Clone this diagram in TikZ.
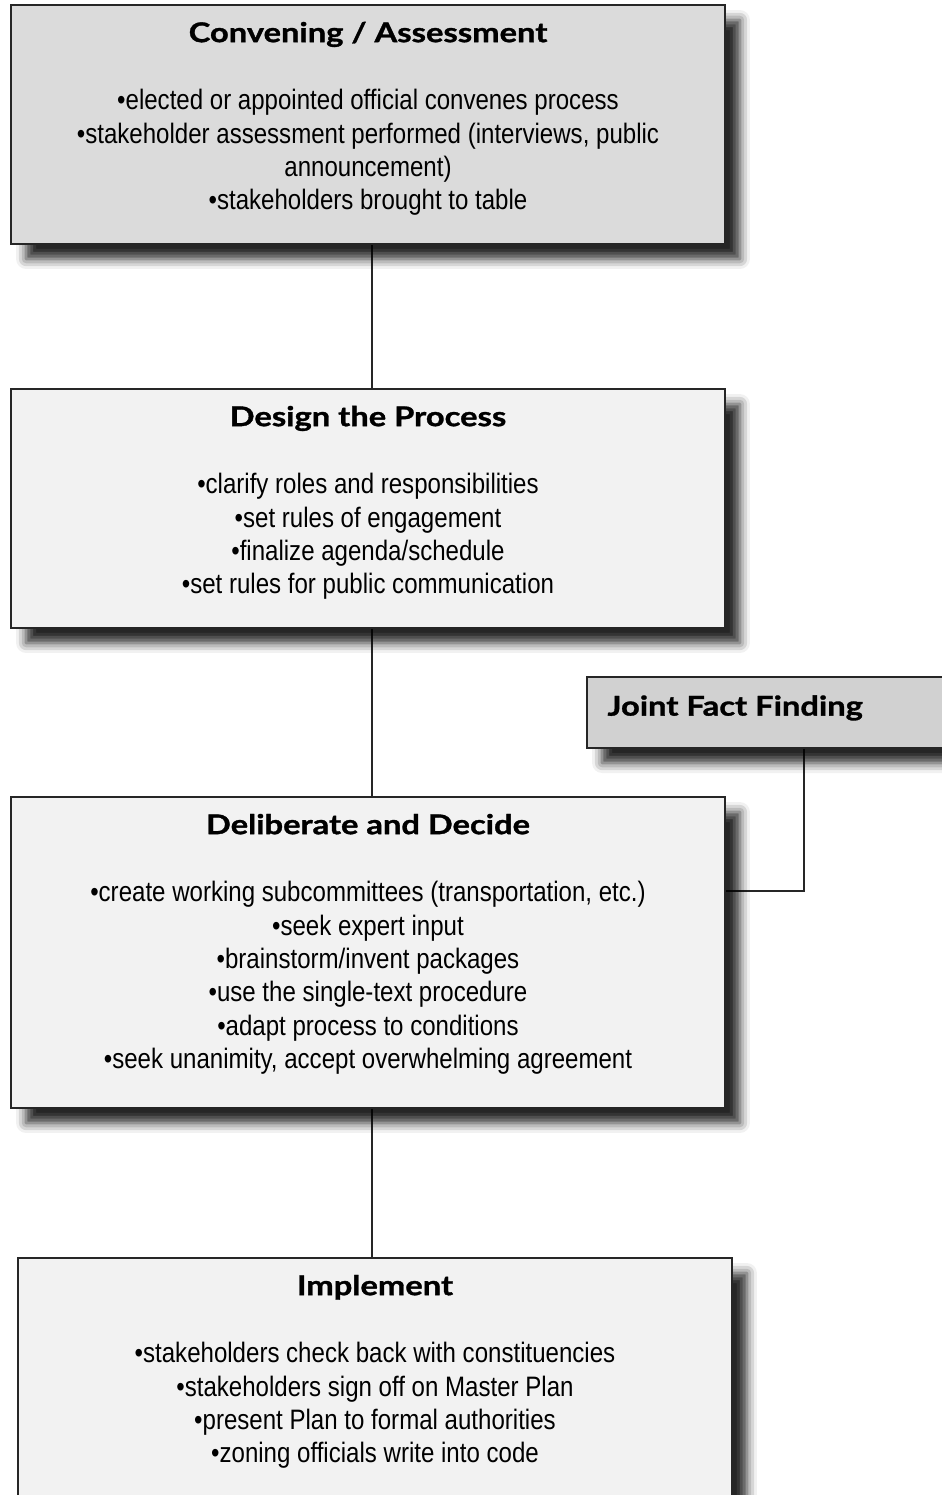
\documentclass[tikz,border=0pt]{standalone}
\usepackage{fontspec}
\setmainfont{Liberation Sans}
\newfontfamily\itemfont[FakeStretch=0.856]{Liberation Sans}
\newfontfamily\headfont[FakeStretch=1.2, FakeBold=1.2]{Lato}
\usetikzlibrary{shadows.blur,backgrounds,positioning}

\definecolor{convgray}{gray}{0.86}
\definecolor{jffgray}{gray}{0.82}
\definecolor{stagegray}{gray}{0.95}

\tikzset{
  stage/.style={draw=black!85, line width=1pt, minimum width=14.28cm, inner sep=0pt, fill=stagegray,
    blur shadow={shadow xshift=0.3cm, shadow yshift=-0.3cm, shadow blur radius=0.2cm, shadow opacity=85}},
  headline/.style={font=\headfont\bfseries\fontsize{15.5}{18}\selectfont, inner sep=0pt, anchor=base},
  items/.style={font=\itemfont\fontsize{16}{18.95}\selectfont, align=center, inner sep=0pt, anchor=north},
  link/.style={draw=black!85, line width=1pt}
}

\begin{document}
\begin{tikzpicture}[x=0.02cm, y=-0.02cm]
  \useasboundingbox (0,0) rectangle (942,1495);
  \clip (0,0) rectangle (942,1495);

  % the four stages
  \node[stage, fill=convgray, minimum height=4.78cm] (conv) at (368,124.5) {};
  \node[headline] (convhead) at ([yshift=-0.76cm]conv.north) {Convening / Assessment};
  \node[items] (convitems) at ([yshift=-1.70cm]conv.north)
    {•elected or appointed official convenes process\\
     •stakeholder assessment performed (interviews, public\\
     announcement)\\
     •stakeholders brought to table};

  \node[stage, minimum height=4.78cm] (design) at (368,508.5) {};
  \node[headline] (designhead) at ([yshift=-0.76cm]design.north) {Design the Process};
  \node[items] (designitems) at ([yshift=-1.70cm]design.north)
    {•clarify roles and responsibilities\\
     •set rules of engagement\\
     •finalize agenda/schedule\\
     •set rules for public communication};

  \node[stage, minimum height=6.22cm] (decide) at (368,952.5) {};
  \node[headline] (decidehead) at ([yshift=-0.76cm]decide.north) {Deliberate and Decide};
  \node[items] (decideitems) at ([yshift=-1.70cm]decide.north)
    {•create working subcommittees (transportation, etc.)\\
     •seek expert input\\
     •brainstorm/invent packages\\
     •use the single-text procedure\\
     •adapt process to conditions\\
     •seek unanimity, accept overwhelming agreement};

  \node[stage, minimum height=5.2cm] (impl) at (375,1388) {};
  \node[headline] (implhead) at ([yshift=-0.76cm]impl.north) {Implement};
  \node[items] (implitems) at ([yshift=-1.70cm]impl.north)
    {•stakeholders check back with constituencies\\
     •stakeholders sign off on Master Plan\\
     •present Plan to formal authorities\\
     •zoning officials write into code};

  % side box
  \node[stage, fill=jffgray, minimum width=8.68cm, minimum height=1.42cm] (jff) at (804,712.5) {};
  \node[headline, anchor=base west] (jffhead) at ([xshift=0.42cm, yshift=-0.79cm]jff.north west) {Joint Fact Finding};

  % connectors
  \begin{scope}[on background layer]
    \draw[link] ([xshift=0.08cm]conv.south) -- ([xshift=0.08cm]design.north);
    \draw[link] ([xshift=0.08cm]design.south) -- ([xshift=0.08cm]decide.north);
    \draw[link] ([xshift=0.08cm]decide.south) -- ([xshift=0.08cm]decide.south |- impl.north);
    \draw[link] (jff.south) |- ([yshift=1.23cm]decide.east);
  \end{scope}
\end{tikzpicture}
\end{document}
